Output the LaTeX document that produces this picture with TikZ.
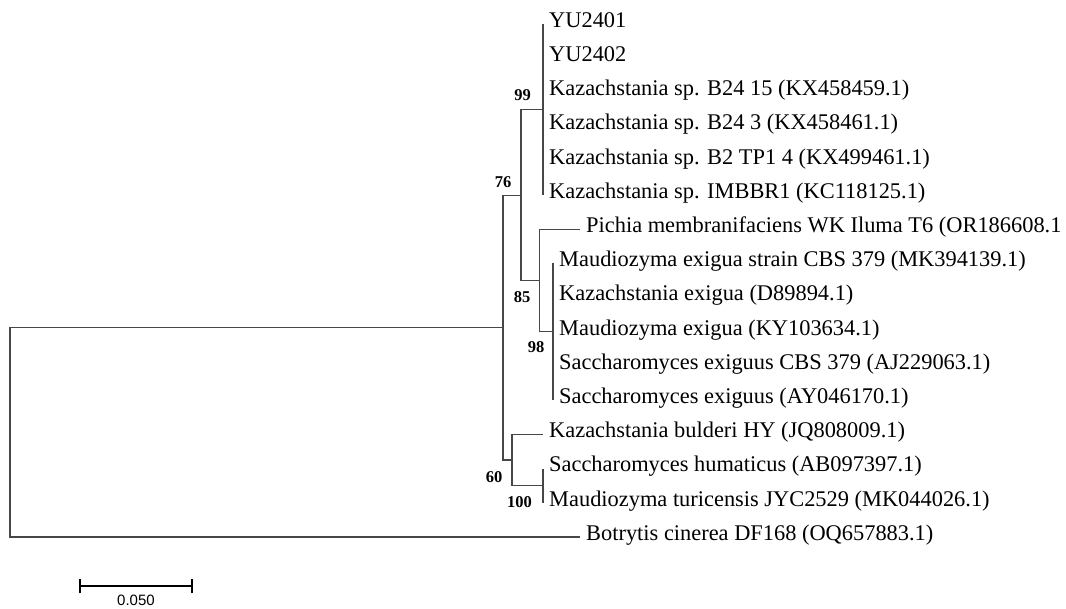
\documentclass[tikz,border=0pt]{standalone}
\usepackage{fontspec}
\setmainfont{Liberation Serif}
\newfontfamily\scalefont{Liberation Sans}
\begin{document}
\begin{tikzpicture}[x=1pt,y=-1pt,
  branch/.style={draw=black!72,line width=1.2pt},
  leaf/.style={anchor=west,inner sep=0pt,text height=0.662em,text depth=0pt,font=\fontsize{22.4}{26}\selectfont,xshift=6pt},
  boot/.style={inner sep=0pt,font=\fontsize{16.5}{19}\selectfont\bfseries},
  scalebar/.style={draw=black,line width=2.6pt}]
\useasboundingbox (0,0) rectangle (1066,608);
% internal nodes
\coordinate (R) at (10,432.5);
\coordinate (I) at (503,327.5);
\coordinate (N76) at (521,195.5);
\coordinate (N99) at (543,109.5);
\coordinate (N85) at (539.5,280.5);
\coordinate (N98) at (553,331.8);
\coordinate (N60) at (512,460);
\coordinate (N100) at (543,485.7);
% leaf tips
\coordinate (l0) at (543,24);
\coordinate (l1) at (543,58.2);
\coordinate (l2) at (543,92.4);
\coordinate (l3) at (543,126.6);
\coordinate (l4) at (543,160.8);
\coordinate (l5) at (543,195);
\coordinate (l6) at (580,229.2);
\coordinate (l7) at (553,263.4);
\coordinate (l8) at (553,297.6);
\coordinate (l9) at (553,331.8);
\coordinate (l10) at (553,366);
\coordinate (l11) at (553,400.2);
\coordinate (l12) at (543,434.4);
\coordinate (l13) at (543,468.6);
\coordinate (l14) at (543,502.8);
\coordinate (l15) at (580,537);
% branches
\draw[branch] (R) |- (I);
\draw[branch] (R) |- (l15);
\draw[branch] (I) |- (N76);
\draw[branch] (I) |- (N60);
\draw[branch] (N76) |- (N99);
\draw[branch] (N76) |- (N85);
\foreach \i in {0,...,5} {\draw[branch] (N99) |- (l\i);}
\draw[branch] (N85) |- (l6);
\draw[branch] (N85) |- (N98);
\foreach \i in {7,...,11} {\draw[branch] (N98) |- (l\i);}
\draw[branch] (N60) |- (l12);
\draw[branch] (N60) |- (N100);
\foreach \i in {13,14} {\draw[branch] (N100) |- (l\i);}
% labels
\node[leaf] (t0) at (l0) {YU2401};
\node[leaf] (t1) at (l1) {YU2402};
\node[leaf] (t2) at (l2) {Kazachstania sp. B24 15 (KX458459.1)};
\node[leaf] (t3) at (l3) {Kazachstania sp. B24 3 (KX458461.1)};
\node[leaf] (t4) at (l4) {Kazachstania sp. B2 TP1 4 (KX499461.1)};
\node[leaf] (t5) at (l5) {Kazachstania sp. IMBBR1 (KC118125.1)};
\node[leaf] (t6) at (l6) {Pichia membranifaciens WK Iluma T6 (OR186608.1};
\node[leaf] (t7) at (l7) {Maudiozyma exigua strain CBS 379 (MK394139.1)};
\node[leaf] (t8) at (l8) {Kazachstania exigua (D89894.1)};
\node[leaf] (t9) at (l9) {Maudiozyma exigua (KY103634.1)};
\node[leaf] (t10) at (l10) {Saccharomyces exiguus CBS 379 (AJ229063.1)};
\node[leaf] (t11) at (l11) {Saccharomyces exiguus (AY046170.1)};
\node[leaf] (t12) at (l12) {Kazachstania bulderi HY (JQ808009.1)};
\node[leaf] (t13) at (l13) {Saccharomyces humaticus (AB097397.1)};
\node[leaf] (t14) at (l14) {Maudiozyma turicensis JYC2529 (MK044026.1)};
\node[leaf] (t15) at (l15) {Botrytis cinerea DF168 (OQ657883.1)};
% bootstrap values
\node[boot] (b99) at (522.5,95) {99};
\node[boot] (b76) at (503,182) {76};
\node[boot] (b85) at (522,297) {85};
\node[boot] (b98) at (536,347) {98};
\node[boot] (b60) at (494,477) {60};
\node[boot] (b100) at (519.5,502) {100};
% scale bar
\coordinate (sbL) at (80,586);
\coordinate (sbR) at (192,586);
\draw[scalebar] (sbL) -- (sbR);
\draw[scalebar] ([yshift=-7pt]sbL) -- ([yshift=7pt]sbL);
\draw[scalebar] ([yshift=-7pt]sbR) -- ([yshift=7pt]sbR);
\node[anchor=north,inner sep=0pt,font=\scalefont\fontsize{15}{17}\selectfont] (sblab) at (136,595) {0.050};
\end{tikzpicture}
\end{document}
